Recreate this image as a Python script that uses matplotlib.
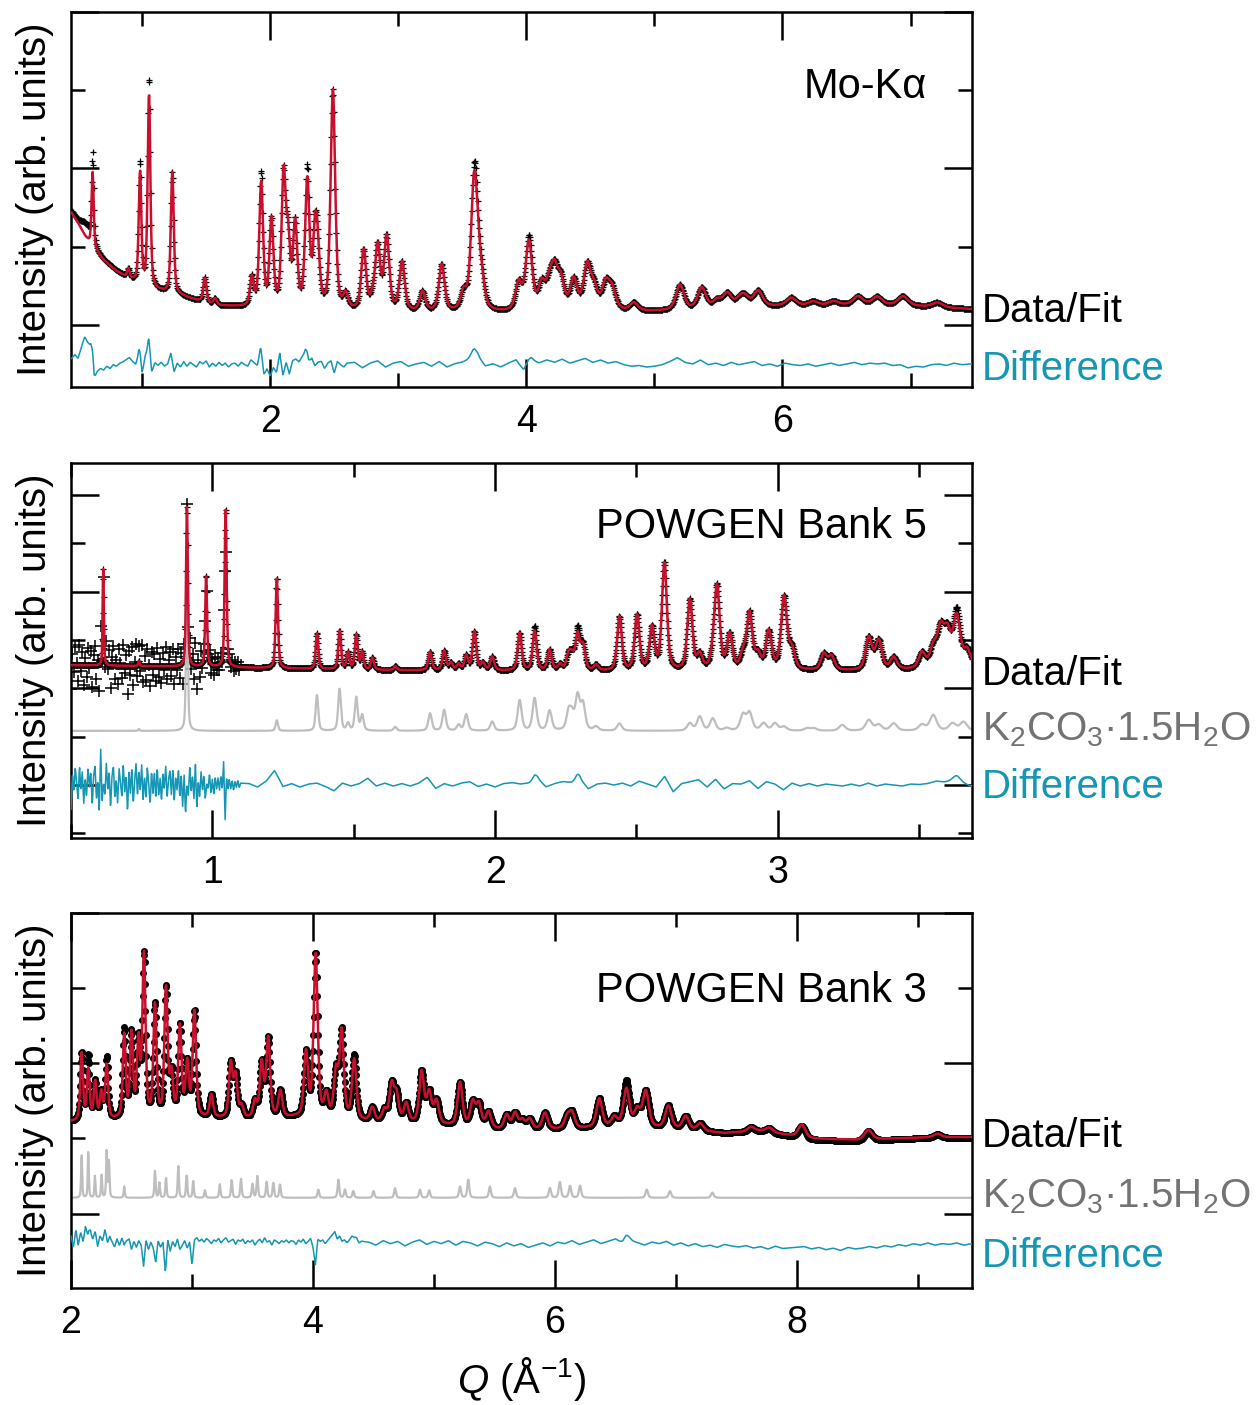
import numpy as np
import matplotlib.pyplot as plt
from matplotlib.ticker import MultipleLocator
import matplotlib.transforms as mtransforms

plt.rcParams['font.family'] = ['Liberation Sans', 'DejaVu Sans']
plt.rcParams['mathtext.fontset'] = 'custom'
plt.rcParams['mathtext.rm'] = 'Liberation Sans'
plt.rcParams['mathtext.it'] = 'Liberation Sans:italic'

RED = '#c8102e'
BLUE = '#1596b4'
GREY = '#bebebe'
GREY_TXT = '#737373'

# ---------------- panel 1 : Mo-Ka ----------------
p1_bg_q = [0.45, 0.50, 0.555, 0.60, 0.65, 0.70, 0.80, 0.90, 1.0, 1.1, 1.2, 1.3, 1.4, 1.5, 1.6,
           1.8, 2.0, 2.5, 3.0, 3.5, 4.0, 4.5, 5.0, 5.5, 6.0, 6.5, 7.0, 7.48]
p1_bg_calc = [1.43, 1.30, 1.13, 1.02, 0.92, 0.82, 0.68, 0.58, 0.50, 0.44, 0.40, 0.37, 0.32, 0.27, 0.24,
              0.22, 0.20, 0.17, 0.16, 0.15, 0.15, 0.17, 0.17, 0.20, 0.24, 0.25, 0.24, 0.20]
p1_bg_obs = [1.45, 1.34, 1.30, 1.15, 0.93, 0.83, 0.69, 0.58, 0.50, 0.44, 0.40, 0.37, 0.32, 0.27, 0.24,
             0.22, 0.20, 0.17, 0.16, 0.15, 0.15, 0.17, 0.17, 0.20, 0.24, 0.25, 0.24, 0.20]
p1_pk_q = [0.614, 0.893, 0.984, 1.054, 1.236, 1.49, 1.57, 1.857, 1.93, 2.01, 2.105, 2.14, 2.195,
           2.29, 2.35, 2.37, 2.49, 2.59, 2.73, 2.80, 2.84, 2.91, 3.03, 3.19, 3.34, 3.51, 3.59,
           3.615, 3.652, 3.94, 4.02, 4.12, 4.18, 4.22, 4.27, 4.37, 4.475, 4.53, 4.62, 4.67, 4.84,
           5.20, 5.37, 5.49, 5.57, 5.67, 5.71, 5.81, 6.07, 6.24, 6.40, 6.59, 6.74, 6.94, 7.21]
p1_pk_h = [0.96, 0.12, 1.43, 2.48, 1.56, 0.32, 0.08, 0.36, 1.58, 1.10, 1.65, 0.80, 1.05,
           1.60, 0.80, 0.60, 2.80, 0.18, 0.76, 0.12, 0.80, 0.93, 0.62, 0.25, 0.60, 0.22, 1.40,
           0.60, 0.30, 0.35, 0.88, 0.32, 0.30, 0.45, 0.35, 0.38, 0.55, 0.25, 0.32, 0.25, 0.10,
           0.32, 0.27, 0.10, 0.18, 0.10, 0.10, 0.20, 0.10, 0.05, 0.05, 0.11, 0.11, 0.12, 0.06]
p1_extra_q = [0.614, 0.984, 1.054, 1.93, 2.29, 3.59, 4.02]
p1_extra_h = [0.16, 0.12, 0.20, 0.13, 0.15, 0.12, 0.06]
# residual (two sampling steps)
p1_res_q = np.concatenate([np.linspace(0.45, 2.60, 87), np.linspace(2.66, 7.46, 81)])
p1_res = [0.06, 0.10, 0.04, 0.12, 0.19, 0.13, 0.10, -0.26, -0.10, -0.06,
          -0.08, -0.03, -0.06, -0.01, -0.03, 0.01, 0.03, 0.06, 0.09, 0.04,
          0.00, 0.12, -0.14, 0.10, 0.15, -0.12, 0.02, -0.01, 0.03, -0.02,
          0.01, 0.15, -0.09, 0.02, -0.03, 0.04, -0.02, 0.03, 0.00, -0.03,
          0.04, 0.01, 0.05, -0.03, 0.02, -0.02, 0.03, -0.01, 0.02, -0.03,
          0.01, 0.02, -0.02, 0.03, 0.00, -0.02, 0.06, 0.02, -0.03, 0.10,
          -0.17, -0.06, -0.15, -0.04, -0.10, 0.15, -0.14, 0.03, -0.12, 0.05,
          0.07, 0.03, 0.09, 0.10, -0.06, 0.06, -0.02, 0.03, 0.04, -0.05,
          0.02, 0.05, -0.11, 0.04, 0.00, -0.03, 0.02,
          0.03, -0.04, 0.02, 0.05, -0.03, 0.02, 0.04, -0.02, 0.01, 0.03,
          -0.02, 0.04, -0.03, 0.01, 0.03, 0.06, 0.10, -0.02, 0.01, -0.03,
          0.02, 0.06, -0.08, 0.05, 0.02, 0.06, 0.03, 0.07, 0.02, 0.05,
          0.08, 0.03, 0.06, 0.02, 0.04, 0.00, -0.02, -0.01, -0.03, -0.02,
          0.00, 0.04, 0.09, 0.03, 0.01, 0.06, 0.00, 0.02, -0.01, 0.03,
          0.00, 0.02, 0.04, -0.01, 0.01, -0.02, 0.02, 0.00, -0.01, 0.01,
          -0.02, 0.00, 0.02, -0.01, 0.01, 0.03, 0.00, 0.02, 0.01, 0.02,
          -0.01, 0.00, -0.04, -0.02, -0.03, 0.00, 0.01, -0.01, 0.02, 0.00,
          0.01]

# ---------------- panel 2 : POWGEN bank 5 ----------------
p2_bg_q = [0.50, 1.0, 1.5, 2.0, 2.5, 3.0, 3.3, 3.69]
p2_bg_y = [2.48, 2.44, 2.38, 2.36, 2.34, 2.36, 2.36, 2.40]
p2_pk_q = [0.614, 0.74, 0.91, 0.978, 1.047, 1.228, 1.37, 1.45, 1.48, 1.509, 1.53, 1.566, 1.647,
           1.77, 1.82, 1.844, 1.871, 1.898, 1.927, 1.957, 1.99, 2.087, 2.14, 2.193, 2.23, 2.26,
           2.272, 2.292, 2.311, 2.357, 2.44, 2.502, 2.555, 2.599, 2.689, 2.724, 2.77, 2.785,
           2.83, 2.877, 2.90, 2.93, 2.968, 3.022, 3.05, 3.163, 3.19, 3.322, 3.357, 3.41, 3.51,
           3.55, 3.576, 3.60, 3.633, 3.67]
p2_pk_h = [2.03, 0.10, 3.34, 1.90, 3.29, 1.88, 0.74, 0.80, 0.35, 0.72, 0.35, 0.25, 0.08,
           0.38, 0.40, 0.15, 0.12, 0.30, 0.80, 0.15, 0.28, 0.78, 0.82, 0.43, 0.12, 0.30,
           0.25, 0.72, 0.50, 0.12, 1.12, 1.15, 0.88, 2.22, 1.46, 0.30, 0.20, 1.70,
           0.72, 0.30, 1.15, 0.30, 0.78, 1.50, 0.40, 0.33, 0.28, 0.67, 0.60, 0.25, 0.32,
           0.40, 0.75, 0.68, 1.05, 0.35]
p2_extra_q = [2.14, 2.292, 3.633]
p2_extra_h = [0.10, 0.12, 0.12]
p2_ph_base = 1.12
p2_ph_q = [0.74, 0.91, 1.228, 1.37, 1.45, 1.48, 1.509, 1.53, 1.647, 1.77, 1.82, 1.871, 1.898,
           1.99, 2.087, 2.14, 2.193, 2.26, 2.272, 2.292, 2.311, 2.357, 2.44, 2.689, 2.724, 2.77,
           2.82, 2.877, 2.90, 2.95, 2.99, 3.022, 3.104, 3.128, 3.228, 3.322, 3.357, 3.41, 3.51,
           3.55, 3.618, 3.657]
p2_ph_h = [0.04, 3.36, 0.22, 0.74, 0.87, 0.15, 0.69, 0.32, 0.08, 0.36, 0.43, 0.12, 0.34,
           0.19, 0.63, 0.67, 0.41, 0.36, 0.29, 0.69, 0.53, 0.08, 0.15, 0.15, 0.29, 0.25,
           0.05, 0.32, 0.36, 0.15, 0.15, 0.08, 0.05, 0.05, 0.12, 0.22, 0.12, 0.15, 0.12,
           0.32, 0.15, 0.18]
p2_cloud_n = 121  # the first 121 residuals are the noisy low-Q data
p2_res_q = np.concatenate([np.linspace(0.50, 1.10, 121), np.linspace(1.13, 3.68, 86)])
p2_res = [-0.50, 0.22, -0.15, 0.38, 0.05, -0.32, 0.42, -0.12, 0.28, -0.40,
          0.15, -0.25, 0.35, -0.05, 0.30, -0.45, 0.20, 0.40, -0.30, 0.10,
          -0.55, 0.75, -0.35, 0.05, -0.20, 0.45, -0.10, 0.30, -0.48, 0.18,
          0.40, -0.28, 0.12, -0.38, 0.35, 0.05, -0.25, 0.42, -0.15, 0.22,
          -0.58, 0.30, -0.18, 0.38, -0.40, 0.08, 0.45, -0.22, 0.32, -0.12,
          0.42, -0.33, 0.20, -0.28, 0.36, 0.02, -0.42, 0.30, -0.18, 0.26,
          -0.30, 0.38, -0.22, 0.15, -0.35, 0.28, -0.08, 0.40, -0.26, 0.12,
          0.30, -0.20, 0.35, -0.38, 0.18, -0.10, 0.33, -0.28, 0.22, -0.45,
          0.25, -0.62, 0.02, -0.22, 0.38, -0.15, 0.20, -0.30, 0.45, -0.50,
          0.10, -0.25, 0.28, -0.12, 0.22, -0.30, 0.02, -0.08, 0.25, -0.18,
          0.12, -0.20, 0.18, -0.10, 0.15, -0.12, 0.20, -0.08, 0.50, -0.75,
          0.15, -0.10, 0.12, -0.08, 0.10, -0.12, 0.08, -0.05, 0.10, -0.06,
          0.04,
          0.03, -0.04, 0.08, 0.30, -0.03, 0.03, -0.04, 0.02, 0.04, -0.03,
          -0.12, 0.04, -0.02, 0.03, 0.14, -0.02, 0.04, -0.02, 0.03, -0.02,
          0.04, 0.16, -0.07, 0.03, -0.02, 0.04, 0.07, -0.03, 0.02, -0.04,
          0.03, 0.05, 0.02, 0.04, 0.14, -0.04, 0.03, 0.07, 0.05, 0.12,
          -0.08, 0.02, 0.04, 0.00, 0.04, -0.02, 0.08, 0.02, -0.04, 0.18,
          -0.14, 0.03, 0.07, 0.11, -0.04, 0.12, -0.08, 0.03, 0.02, 0.09,
          -0.07, 0.07, 0.02, -0.10, 0.04, -0.02, 0.03, -0.02, 0.02, 0.00,
          -0.02, 0.02, -0.02, 0.04, -0.02, 0.02, 0.00, -0.02, 0.02, 0.01,
          0.03, 0.08, 0.06, 0.09, 0.05, -0.02]

# ---------------- panel 3 : POWGEN bank 3 ----------------
p3_bg_q = [2.0, 2.5, 3.0, 3.5, 3.85, 4.4, 5.0, 5.6, 6.1, 6.5, 7.0, 7.4, 7.7, 8.1, 8.5, 9.0, 9.45]
p3_bg_calc = [1.22, 1.25, 1.27, 1.25, 1.27, 1.22, 1.18, 1.10, 1.12, 1.15, 1.12, 1.07, 1.10,
              1.00, 0.98, 1.01, 1.02]
p3_bg_obs = [1.22, 1.25, 1.27, 1.25, 1.27, 1.22, 1.18, 1.10, 1.12, 1.15, 1.12, 1.07, 1.09,
             0.98, 0.96, 1.00, 1.01]
p3_pk_q = [2.088, 2.143, 2.20, 2.25, 2.295, 2.44, 2.50, 2.557, 2.603, 2.694, 2.785, 2.83, 2.90,
           2.96, 3.02, 3.16, 3.32, 3.36, 3.41, 3.52, 3.576, 3.63, 3.73, 3.942, 4.022, 4.11,
           4.19, 4.237, 4.34, 4.49, 4.59, 4.65, 4.69, 4.77, 4.898, 4.96, 5.02, 5.215, 5.32,
           5.37, 5.45, 5.60, 5.67, 5.73, 5.79, 5.917, 6.10, 6.14, 6.366, 6.49, 6.59, 6.68,
           6.75, 6.936, 7.08, 7.20, 7.62, 7.77, 8.04, 8.59, 9.16]
p3_pk_h = [0.90, 0.67, 0.50, 0.35, 0.72, 1.10, 1.10, 1.00, 2.15, 1.48, 1.70, 0.55, 1.20,
           0.70, 1.40, 0.30, 0.72, 0.55, 0.15, 0.22, 0.72, 1.05, 0.35, 0.85, 2.18, 0.30,
           0.60, 1.15, 0.80, 0.18, 0.15, 0.48, 0.35, 0.25, 0.68, 0.40, 0.30, 0.58, 0.32,
           0.30, 0.22, 0.20, 0.22, 0.12, 0.14, 0.22, 0.15, 0.20, 0.38, 0.12, 0.50, 0.22,
           0.48, 0.30, 0.18, 0.10, 0.06, 0.06, 0.17, 0.13, 0.05]
p3_extra_q = [2.143, 2.295, 2.44, 6.59, 4.34]
p3_extra_h = [0.18, 0.10, 0.08, 0.10, 0.06]
p3_ph_base = 0.21
p3_ph_q = [2.088, 2.143, 2.198, 2.253, 2.295, 2.314, 2.44, 2.694, 2.73, 2.785, 2.887, 2.956,
           3.01, 3.107, 3.23, 3.328, 3.405, 3.50, 3.54, 3.617, 3.672, 3.727, 4.044, 4.21,
           4.264, 4.333, 4.50, 4.678, 4.884, 4.96, 5.215, 5.283, 5.462, 5.669, 5.958, 6.04,
           6.124, 6.207, 6.758, 6.95, 7.30]
p3_ph_h = [0.60, 0.64, 0.29, 0.30, 0.62, 0.49, 0.15, 0.36, 0.20, 0.27, 0.42, 0.31,
           0.22, 0.10, 0.18, 0.24, 0.25, 0.19, 0.29, 0.21, 0.20, 0.18, 0.11, 0.24,
           0.11, 0.09, 0.09, 0.13, 0.11, 0.10, 0.15, 0.24, 0.15, 0.13, 0.13, 0.21,
           0.16, 0.16, 0.11, 0.09, 0.07]
p3_res_q = np.concatenate([np.linspace(2.00, 4.40, 121), np.linspace(4.46, 9.44, 84)])
p3_res = [0.10, -0.05, 0.18, -0.02, 0.15, 0.02, 0.20, -0.06, 0.12, 0.05,
          0.16, -0.04, 0.10, 0.03, 0.14, -0.08, 0.08, 0.02, -0.05, 0.06,
          -0.03, 0.05, -0.10, 0.02, 0.06, -0.08, 0.03, -0.05, 0.04, -0.02,
          -0.30, 0.05, -0.08, 0.02, -0.06, -0.25, 0.04, -0.05, 0.02, -0.38,
          0.05, -0.10, 0.03, -0.04, 0.06, -0.08, -0.02, 0.04, -0.06, 0.02,
          -0.28, 0.05, 0.08, 0.03, 0.06, 0.02, 0.07, 0.04, 0.00, 0.05,
          0.03, 0.07, 0.01, 0.05, 0.08, 0.02, 0.04, 0.06, -0.01, 0.05,
          0.03, 0.06, 0.00, 0.04, 0.02, 0.05, -0.02, 0.03, 0.06, 0.01,
          0.08, 0.02, 0.04, -0.02, 0.05, 0.03, 0.00, 0.04, 0.02, 0.05,
          0.01, 0.04, 0.03, -0.01, 0.05, 0.02, 0.06, 0.00, 0.03, 0.07,
          -0.05, -0.28, 0.06, 0.03, 0.05, 0.00, 0.04, 0.08, 0.12, 0.16,
          0.06, 0.10, 0.03, 0.05, 0.01, 0.04, 0.07, 0.02, 0.05, 0.00,
          0.03,
          0.02, -0.02, 0.04, 0.00, 0.03, -0.03, 0.02, 0.05, -0.01, 0.03,
          0.00, 0.04, -0.02, 0.03, 0.01, -0.03, 0.02, 0.00, -0.04, 0.01,
          -0.03, 0.00, -0.05, -0.02, 0.01, -0.03, 0.02, 0.00, 0.04, -0.01,
          0.02, 0.05, 0.00, 0.03, 0.06, -0.01, 0.03, 0.01, -0.02, 0.02,
          0.00, 0.03, -0.02, 0.01, -0.03, 0.00, -0.04, -0.02, -0.05, -0.01,
          -0.03, -0.04, -0.02, -0.05, -0.03, -0.06, -0.02, -0.05, -0.04, -0.03,
          -0.02, -0.05, -0.03, -0.06, -0.04, -0.07, -0.03, -0.05, -0.04, -0.02,
          -0.04, -0.01, -0.03, 0.00, -0.02, 0.01, -0.01, 0.02, -0.01, 0.01,
          0.00, 0.02, -0.01, 0.01]


def pv(q, pos, fw):
    x = (q - pos) / (fw / 2.0)
    return 0.5 / (1 + x ** 2) + 0.5 * np.exp(-np.log(2) * x ** 2)


def peaks(q, pk_q, pk_h, fw0, fw1):
    y = np.zeros_like(q)
    for p, h in zip(pk_q, pk_h):
        y += h * pv(q, p, fw0 + fw1 * p)
    return y


def style_axes(ax, xlim, ylim, xmaj, xmin):
    ax.set_xlim(*xlim)
    ax.set_ylim(*ylim)
    ax.xaxis.set_major_locator(MultipleLocator(xmaj))
    ax.xaxis.set_minor_locator(MultipleLocator(xmin))
    ax.yaxis.set_major_locator(MultipleLocator(2))
    ax.yaxis.set_minor_locator(MultipleLocator(1))
    ax.tick_params(which='both', direction='in', top=True, right=True, width=1.8,
                   labelsize=27, pad=12)
    ax.tick_params(which='major', length=20)
    ax.tick_params(which='minor', length=10)
    ax.set_yticklabels([])
    for s in ax.spines.values():
        s.set_linewidth(1.8)


def side_labels(ax, items):
    tr = mtransforms.blended_transform_factory(ax.transAxes, ax.transData)
    for txt, y, col in items:
        ax.text(1.011, y, txt, transform=tr, fontsize=29, color=col, va='baseline',
                ha='left', clip_on=False)


def title(ax, txt, y):
    tr = mtransforms.blended_transform_factory(ax.transAxes, ax.transData)
    ax.text(0.95, y, txt, transform=tr, fontsize=30, ha='right', va='baseline')


fig = plt.figure(figsize=(12.59, 14.05), dpi=100)
L, W, H = 71 / 1259, 901 / 1259, 375 / 1405

# ---- panel 1
ax1 = fig.add_axes([L, 1 - 387 / 1405, W, H])
q1 = np.linspace(0.45, 7.48, 1800)
calc1 = np.interp(q1, p1_bg_q, p1_bg_calc) + peaks(q1, p1_pk_q, p1_pk_h, 0.012, 0.012)
obs1 = (np.interp(q1, p1_bg_q, p1_bg_obs) + peaks(q1, p1_pk_q, p1_pk_h, 0.012, 0.012)
        + peaks(q1, p1_extra_q, p1_extra_h, 0.012, 0.012))
diff1 = obs1 - calc1 + np.interp(q1, p1_res_q, p1_res) - 0.51
ax1.plot(q1, obs1, '+', color='black', ms=5, mew=0.9, zorder=2)
ax1.plot(q1, calc1, color=RED, lw=1.8, zorder=3)
ax1.plot(q1, diff1, color=BLUE, lw=1.1, zorder=3)
style_axes(ax1, (0.445, 7.48), (-0.795, 4.0), 2, 1)
title(ax1, 'Mo-K\u03b1', 2.90)
side_labels(ax1, [('Data/Fit', 0.03, 'black'), ('Difference', -0.70, BLUE)])

# ---- panel 2
ax2 = fig.add_axes([L, 1 - 838 / 1405, W, H])
q2 = np.linspace(0.5, 3.69, 2400)
calc2 = np.interp(q2, p2_bg_q, p2_bg_y) + peaks(q2, p2_pk_q, p2_pk_h, 0.0, 0.008)
obs2 = calc2 + peaks(q2, p2_extra_q, p2_extra_h, 0.0, 0.008)
diff2 = obs2 - calc2 + np.interp(q2, p2_res_q, p2_res)
cq = p2_res_q[:p2_cloud_n]
cloud2 = (np.interp(cq, p2_bg_q, p2_bg_y) + peaks(cq, p2_pk_q, p2_pk_h, 0.0, 0.008)
          + np.array(p2_res[:p2_cloud_n]))
phase2 = p2_ph_base + peaks(q2, p2_ph_q, p2_ph_h, 0.0, 0.008)
ax2.plot(q2, obs2, '+', color='black', ms=5, mew=0.9, zorder=2)
ax2.plot(cq, cloud2, '+', color='black', ms=8, mew=1.1, zorder=2)
ax2.plot(q2, calc2, color=RED, lw=1.8, zorder=3)
ax2.plot(q2, phase2, color=GREY, lw=1.6, zorder=2)
ax2.plot(q2, diff2, color=BLUE, lw=1.1, zorder=3)
style_axes(ax2, (0.5, 3.687), (-1.095, 6.66), 1, 0.5)
title(ax2, 'POWGEN Bank 5', 5.10)
side_labels(ax2, [('Data/Fit', 2.07, 'black'),
                  ('K$_2$CO$_3$\u00b71.5H$_2$O', 0.93, GREY_TXT),
                  ('Difference', -0.27, BLUE)])

# ---- panel 3
ax3 = fig.add_axes([L, 1 - 1288 / 1405, W, H])
q3 = np.linspace(2.0, 9.45, 2000)
calc3 = np.interp(q3, p3_bg_q, p3_bg_calc) + peaks(q3, p3_pk_q, p3_pk_h, 0.012, 0.007)
obs3 = (np.interp(q3, p3_bg_q, p3_bg_obs) + peaks(q3, p3_pk_q, p3_pk_h, 0.012, 0.007)
        + peaks(q3, p3_extra_q, p3_extra_h, 0.012, 0.007))
diff3 = obs3 - calc3 + np.interp(q3, p3_res_q, p3_res) - 0.40
phase3 = p3_ph_base + peaks(q3, p3_ph_q, p3_ph_h, 0.004, 0.003)
ax3.plot(q3, obs3, 'o', color='black', ms=4, zorder=2)
ax3.plot(q3, calc3, color=RED, lw=1.8, zorder=3)
ax3.plot(q3, phase3, color=GREY, lw=1.6, zorder=2)
ax3.plot(q3, diff3, color=BLUE, lw=1.1, zorder=3)
style_axes(ax3, (2.0, 9.446), (-0.99, 4.0), 2, 1)
title(ax3, 'POWGEN Bank 3', 2.81)
side_labels(ax3, [('Data/Fit', 0.89, 'black'),
                  ('K$_2$CO$_3$\u00b71.5H$_2$O', 0.08, GREY_TXT),
                  ('Difference', -0.71, BLUE)])
ax3.set_xlabel('$Q$ (\u00c5$^{-1}$)', fontsize=29, labelpad=10)

for ax in (ax1, ax2, ax3):
    pos = ax.get_position()
    fig.text(35 / 1259, pos.y0 + pos.height / 2, 'Intensity (arb. units)', rotation=90,
             fontsize=29, ha='center', va='center')

fig.savefig('out.png', dpi=100)
